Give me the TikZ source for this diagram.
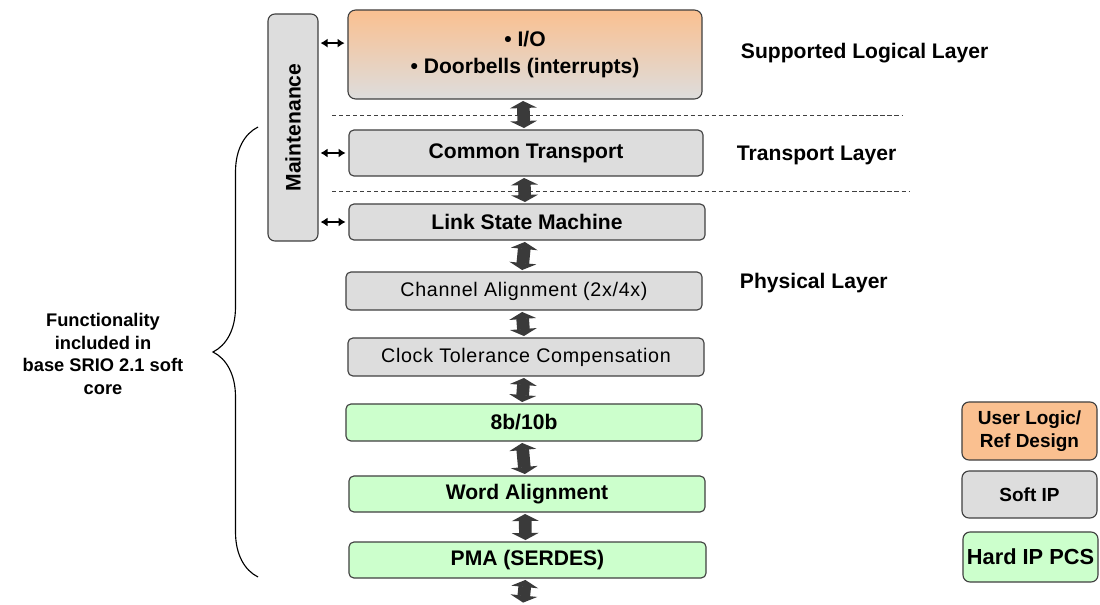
\documentclass[tikz,border=0pt]{standalone}
\usepackage{fontspec}
\setmainfont{Liberation Sans}
\usetikzlibrary{arrows.meta,decorations.pathreplacing}

\definecolor{userorange}{HTML}{FAC090}
\definecolor{softgray}{HTML}{DDDDDD}
\definecolor{hardgreen}{HTML}{CCFFCC}
\definecolor{edgegray}{HTML}{404040}
\definecolor{pipegray}{HTML}{3A3A3A}

\tikzset{
  blk/.style={draw=edgegray, line width=0.8pt, rounded corners=3.5pt, inner sep=0pt,
    align=center, font={\fontsize{15}{19}\selectfont\bfseries}},
  soft/.style={blk, fill=softgray},
  softthin/.style={soft, font={\fontsize{14}{17}\selectfont\addfontfeature{LetterSpace=3.5}}},
  hard/.style={blk, fill=hardgreen},
  legtext/.style={font={\fontsize{13.5}{16.3}\selectfont\bfseries}},
  pipe/.style={line width=9pt, pipegray, shorten <=1pt, shorten >=1pt,
    {Triangle[length=5pt,width=19pt]}-{Triangle[length=5pt,width=19pt]}},
  sml/.style={line width=1.5pt, shorten <=1.4pt, shorten >=2pt,
    {Latex[length=5pt,width=6.5pt]}-{Latex[length=5pt,width=6.5pt]}},
  sep/.style={edgegray, line width=0.6pt, dash pattern=on 3pt off 2pt},
  layer/.style={anchor=west, font={\fontsize{15}{18}\selectfont\bfseries}},
}

\begin{document}
\begin{tikzpicture}[x=0.025cm, y=-0.025cm]
\useasboundingbox (0,0) rectangle (1100,605);

% protocol stack
\node[blk, top color=userorange, bottom color=softgray, rounded corners=5.5pt,
  minimum width=8.85cm, minimum height=2.225cm] (io) at (525,54.5)
  {\textbullet\ I/O\\\textbullet\ Doorbells (interrupts)};
\node[soft, minimum width=8.85cm, minimum height=1.15cm] (ct) at (526,153) {Common Transport};
\node[soft, minimum width=8.9cm, minimum height=0.9cm] (lsm) at (527,222) {Link State Machine};
\node[softthin, minimum width=8.9cm, minimum height=0.95cm] (ca) at (524,291) {Channel Alignment (2x/4x)};
\node[softthin, minimum width=8.9cm, minimum height=0.95cm] (ctc) at (526,357) {Clock Tolerance Compensation};
\node[hard, minimum width=8.9cm, minimum height=0.925cm] (enc) at (524,422.5) {8b/10b};
\node[hard, minimum width=8.9cm, minimum height=0.9cm] (wa) at (527,494) {Word Alignment};
\node[hard, minimum width=8.925cm, minimum height=0.9cm] (pma) at (527.5,560) {PMA (SERDES)};
\coordinate (out) at (523,604);

\node[soft, rounded corners=5pt, minimum width=1.25cm, minimum height=5.675cm] (maint) at (293,127.5)
  {\rotatebox{90}{Maintenance}};

% layer separators
\draw[sep] (332,115) -- (903,115);
\draw[sep] (332,191) -- (910,191);

\foreach \a/\b in {io/ct, ct/lsm, lsm/ca, ca/ctc, ctc/enc, enc/wa, wa/pma}
\draw[pipe] ([xshift=-1.4pt]\a.south) -- ([xshift=-1.4pt]\b.north);
\draw[pipe] ([xshift=-1.4pt]pma.south) -- (out);

\coordinate (iop) at ([yshift=8.1pt]io.west);
\draw[sml] (iop -| maint.east) -- (iop);
\draw[sml] (ct.west -| maint.east) -- (ct.west);
\draw[sml] (lsm.west -| maint.east) -- (lsm.west);

% layer names
\node[layer] (logl) at (736,53) {Supported Logical Layer};
\node[layer] (trl) at (732,155) {Transport Layer};
\node[layer] (phl) at (735,283) {Physical Layer};

% brace and note
\draw[decorate, decoration={brace, amplitude=32pt}, line width=0.8pt] (258,577) -- (258,127);
\node[align=center, font={\fontsize{13}{16.3}\selectfont\bfseries}] (func) at (103,354)
  {Functionality\\included in\\base SRIO 2.1 soft\\core};

% legend
\node[blk, legtext, fill=userorange, rounded corners=5pt, minimum width=3.375cm, minimum height=1.45cm]
  (leguser) at (1029.5,431) {User Logic/\\Ref Design};
\node[blk, legtext, fill=softgray, rounded corners=5pt, minimum width=3.375cm, minimum height=1.175cm]
  (legsoft) at (1029.5,494.5) {Soft IP};
\node[blk, fill=hardgreen, rounded corners=5pt, minimum width=3.375cm, minimum height=1.25cm,
  font={\fontsize{15.5}{18}\selectfont\bfseries}] (leghard) at (1030.5,557) {Hard IP PCS};
\end{tikzpicture}
\end{document}
